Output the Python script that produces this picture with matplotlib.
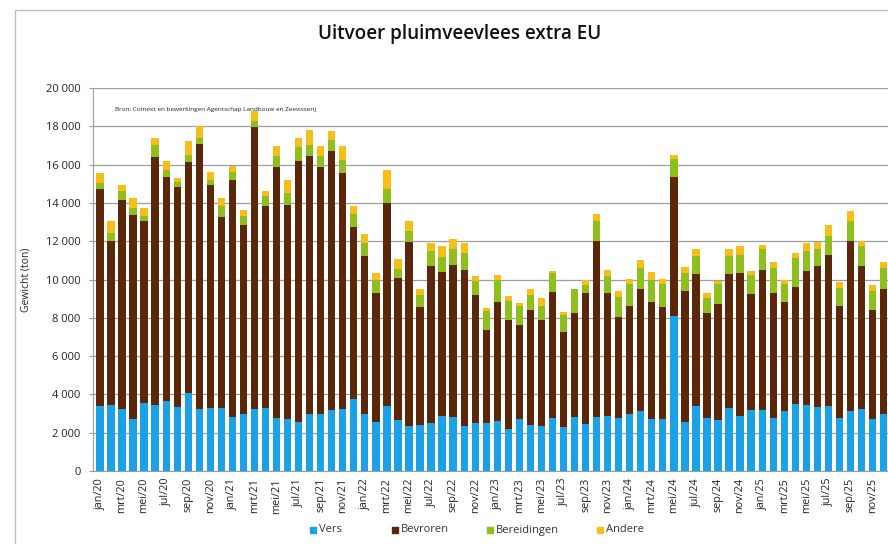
import matplotlib
matplotlib.use("Agg")
import matplotlib.pyplot as plt
import numpy as np
from matplotlib.patches import Rectangle

plt.rcParams['font.family'] = ['Open Sans', 'DejaVu Sans']

months = ['jan', 'feb', 'mrt', 'apr', 'mei', 'jun', 'jul', 'aug', 'sep', 'okt', 'nov', 'dec']
years = ['20', '21', '22', '23', '24', '25']
categories = [f"{m}/{y}" for y in years for m in months]

# cumulative tops (thousand ton)
vers_top = [3.40, 3.43, 3.22, 2.70, 3.57, 3.43, 3.65, 3.34, 4.09, 3.22, 3.27, 3.27,
            2.82, 2.96, 3.22, 3.27, 2.78, 2.73, 2.56, 3.00, 2.96, 3.18, 3.25, 3.74,
            3.00, 2.57, 3.39, 2.64, 2.35, 2.40, 2.52, 2.87, 2.82, 2.35, 2.52, 2.49,
            2.61, 2.17, 2.70, 2.38, 2.35, 2.75, 2.31, 2.83, 2.43, 2.82, 2.87, 2.78,
            3.00, 3.13, 2.70, 2.70, 8.09, 2.57, 3.39, 2.75, 2.64, 3.30, 2.87, 3.18,
            3.17, 2.78, 3.13, 3.48, 3.43, 3.36, 3.39, 2.75, 3.13, 3.22, 2.70, 2.96]
bevroren_top = [14.73, 12.03, 14.14, 13.36, 13.06, 16.38, 15.34, 14.82, 16.16, 17.08, 14.94, 13.27,
                15.17, 12.87, 17.95, 13.83, 15.86, 13.91, 16.20, 16.47, 15.86, 16.73, 15.57, 12.73,
                11.22, 9.30, 14.00, 10.09, 11.97, 8.56, 10.73, 10.38, 10.78, 10.52, 9.17, 7.36,
                8.83, 7.88, 7.65, 8.40, 7.91, 9.34, 7.25, 8.26, 9.27, 12.03, 9.27, 8.05,
                8.61, 9.48, 8.83, 8.56, 15.34, 9.39, 10.31, 8.23, 8.70, 10.31, 10.35, 9.25,
                10.47, 9.27, 8.82, 9.62, 10.43, 10.70, 11.27, 8.61, 12.00, 10.73, 8.43, 9.53]
bereid_top = [15.04, 12.43, 14.60, 13.74, 13.33, 17.04, 15.74, 15.08, 16.52, 17.39, 15.22, 13.86,
              15.60, 13.33, 18.30, 14.35, 16.47, 14.52, 16.90, 17.04, 16.47, 17.30, 16.26, 13.40,
              11.90, 9.95, 14.70, 10.55, 12.55, 9.17, 11.50, 11.20, 11.60, 11.40, 9.90, 8.35,
              10.00, 8.87, 8.60, 9.20, 8.60, 10.35, 8.17, 9.48, 9.70, 13.04, 10.20, 9.10,
              9.74, 10.60, 10.00, 9.74, 16.30, 10.35, 11.25, 9.04, 9.74, 11.22, 11.30, 10.26,
              11.57, 10.60, 9.74, 11.10, 11.48, 11.57, 12.26, 9.57, 13.04, 11.74, 9.39, 10.60]
totaal = [15.57, 13.08, 14.96, 14.28, 13.72, 17.41, 16.17, 15.30, 17.22, 18.03, 15.62, 14.23,
          15.91, 13.65, 18.80, 14.64, 16.96, 15.17, 17.37, 17.83, 16.96, 17.74, 16.96, 13.86,
          12.35, 10.35, 15.70, 11.05, 13.04, 9.48, 11.88, 11.74, 12.09, 11.91, 10.17, 8.49,
          10.23, 9.13, 8.78, 9.51, 9.04, 10.43, 8.31, 9.53, 9.97, 13.43, 10.52, 9.39,
          10.03, 11.00, 10.38, 10.03, 16.52, 10.66, 11.57, 9.27, 9.91, 11.57, 11.74, 10.43,
          11.79, 10.90, 9.97, 11.39, 11.91, 11.97, 12.82, 9.88, 13.60, 12.03, 9.69, 10.90]

vers = np.array(vers_top) * 1000
bevroren = (np.array(bevroren_top) - np.array(vers_top)) * 1000
bereidingen = (np.array(bereid_top) - np.array(bevroren_top)) * 1000
andere = (np.array(totaal) - np.array(bereid_top)) * 1000

series_names = ['Vers', 'Bevroren', 'Bereidingen', 'Andere']
colors = ['#1BA1E6', '#5B2708', '#8FBF1C', '#F7BE1A']

W, H = 888, 544
fig = plt.figure(figsize=(W / 100, H / 100), dpi=100)

# outer chart border
fig.patches.append(Rectangle((15 / W, -0.1), 1.2, 1 - 10 / H + 0.1, transform=fig.transFigure,
                             fill=False, edgecolor='#BDBDBD', linewidth=1.0))

ax = fig.add_axes([93 / W, 1 - 471 / H, (888 - 93) / W, (471 - 88) / H])
x = np.arange(len(categories))
bw = 0.66
bottom = np.zeros(len(categories))
for vals, c, name in zip([vers, bevroren, bereidingen, andere], colors, series_names):
    ax.bar(x, vals, bw, bottom=bottom, color=c, label=name, zorder=3)
    bottom += vals

ax.set_ylim(0, 20000)
ax.set_xlim(-0.63, 71.4)
yt = np.arange(0, 20001, 2000)
ax.set_yticks(yt)
ax.set_yticklabels([f"{v:,}".replace(',', ' ') for v in yt], fontsize=8, color='#222222')
ax.yaxis.grid(True, color='#9E9E9E', linewidth=0.9, zorder=0)
ax.set_axisbelow(True)
ax.set_xticks(x[::2])
ax.set_xticklabels(categories[::2], rotation=90, fontsize=7.8, color='#222222')
ax.tick_params(axis='x', length=0, pad=5)
ax.tick_params(axis='y', length=3, color='#9E9E9E', pad=6)
for s in ['top', 'right']:
    ax.spines[s].set_visible(False)
ax.spines['left'].set_color('#9E9E9E')
ax.spines['bottom'].set_color('#9E9E9E')
ax.set_ylabel('Gewicht (ton)', fontsize=7.5, color='#222222', labelpad=10)

fig.text(460 / W, 1 - 34 / H, 'Uitvoer pluimveevlees extra EU', ha='center', va='center',
         fontsize=13.6, fontweight='semibold', color='#111111')
fig.text(115 / W, 1 - 110 / H,
         'Bron: Comext en bewerkingen Agentschap Landbouw en Zeevisserij',
         ha='left', va='center', fontsize=4.6, color='#222222')

legend_x = [313, 395, 490, 600]
for hx, c, name in zip(legend_x, colors, series_names):
    fig.patches.append(Rectangle(((hx - 3) / W, 1 - 533 / H), 6 / W, 6 / H,
                                 transform=fig.transFigure, color=c))
    fig.text((hx + 6) / W, 1 - 530 / H, name, ha='left', va='center', fontsize=8, color='#333333')

fig.savefig('out.png', dpi=100)
